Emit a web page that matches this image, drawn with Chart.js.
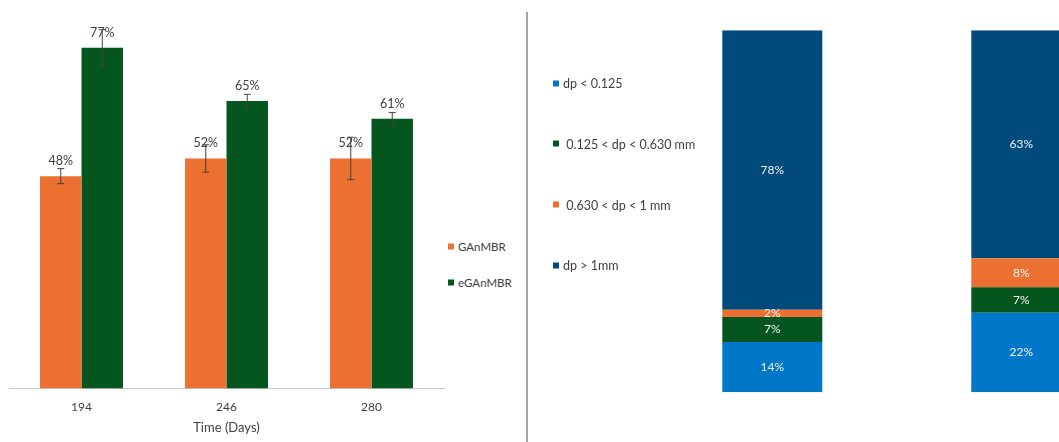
<!DOCTYPE html>
<html>
<head>
<meta charset="utf-8">
<script src="https://cdn.jsdelivr.net/npm/chart.js@4.4.1/dist/chart.umd.min.js"></script>
<style>
  html, body { margin: 0; padding: 0; background: #fff; overflow: hidden; }
  #wrap { position: relative; width: 1059px; height: 442px; overflow: hidden; font-family: Lato, sans-serif; color: #404040; }
  #removalBox { position: absolute; left: 0; top: 0; width: 446px; height: 442px; }
  #sizeBox { position: absolute; left: 530px; top: 0; width: 620px; height: 442px; }
  .divider { position: absolute; left: 526px; top: 12px; width: 1.5px; height: 430px; background: #a6a6a6; }
  .legend { position: absolute; margin: 0; padding: 0; list-style: none; }
  .legend li { position: absolute; left: 0; display: flex; align-items: center; white-space: pre; transform: translateY(-50%); }
  .legend .swatch { width: 6px; height: 6px; margin-right: 4px; flex: none; }
  #removalLegend { left: 448px; top: 246px; font-size: 11.5px; }
  #sizeLegend { left: 553px; top: 83px; font-size: 12.5px; }
</style>
</head>
<body>
<div id="wrap">
  <div id="removalBox"><canvas id="removalChart"></canvas></div>
  <ul class="legend" id="removalLegend"></ul>
  <div class="divider"></div>
  <div id="sizeBox"><canvas id="sizeChart"></canvas></div>
  <ul class="legend" id="sizeLegend"></ul>
</div>
<script>
// removal efficiency (%) per sampling day
const days = ['194', '246', '280'];
const ganmbr = [48, 52, 52];
const eganmbr = [77, 65, 61];
const ganmbrErr = [1.7, 3.1, 4.8];
const eganmbrErr = [4.1, 1.5, 1.4];

// particle size distribution (%) per reactor
const reactors = ['GAnMBR', 'eGAnMBR'];
const fineShare = [14, 22];
const midShare = [7, 7];
const coarseShare = [2, 8];
const largeShare = [78, 63];
const sizeLabels = ['dp < 0.125', ' 0.125 < dp < 0.630 mm', ' 0.630 < dp < 1 mm', 'dp > 1mm'];

const ORANGE = '#ec7032';
const GREEN = '#04561e';
const LIGHT_BLUE = '#0077c8';
const DARK_BLUE = '#014a7c';
const TEXT = '#404040';

// error bars + value labels above each bar
const barTopLabels = {
  id: 'barTopLabels',
  afterDatasetsDraw(chart) {
    const ctx = chart.ctx;
    const y = chart.scales.y;
    ctx.save();
    chart.data.datasets.forEach((ds, i) => {
      const meta = chart.getDatasetMeta(i);
      meta.data.forEach((bar, j) => {
        const v = ds.data[j];
        const e = ds.errors[j];
        const top = y.getPixelForValue(v + e);
        const bot = y.getPixelForValue(v - e);
        ctx.strokeStyle = TEXT;
        ctx.lineWidth = 1;
        ctx.beginPath();
        ctx.moveTo(bar.x, top); ctx.lineTo(bar.x, bot);
        ctx.moveTo(bar.x - 3.5, top); ctx.lineTo(bar.x + 3.5, top);
        ctx.moveTo(bar.x - 3.5, bot); ctx.lineTo(bar.x + 3.5, bot);
        ctx.stroke();
      });
    });
    ctx.fillStyle = TEXT;
    ctx.font = '12.5px Lato, sans-serif';
    ctx.textAlign = 'center';
    ctx.textBaseline = 'middle';
    chart.data.datasets.forEach((ds, i) => {
      chart.getDatasetMeta(i).data.forEach((bar, j) => {
        ctx.fillText(ds.data[j] + '%', bar.x, bar.y - 15);
      });
    });
    ctx.restore();
  }
};

// labels centred inside each stacked segment
const segmentLabels = {
  id: 'segmentLabels',
  afterDatasetsDraw(chart) {
    const ctx = chart.ctx;
    ctx.save();
    ctx.fillStyle = '#f2f2f2';
    ctx.font = '12px Lato, sans-serif';
    ctx.textAlign = 'center';
    ctx.textBaseline = 'middle';
    chart.data.datasets.forEach((ds, i) => {
      chart.getDatasetMeta(i).data.forEach((bar, j) => {
        ctx.fillText(ds.raw[j] + '%', bar.x, (bar.y + bar.base) / 2);
      });
    });
    ctx.restore();
  }
};

function buildLegend(chart, listId, gap) {
  const list = document.getElementById(listId);
  chart.data.datasets.forEach((ds, i) => {
    const li = document.createElement('li');
    li.style.top = (i * gap) + 'px';
    const sw = document.createElement('span');
    sw.className = 'swatch';
    sw.style.background = ds.backgroundColor;
    li.appendChild(sw);
    li.appendChild(document.createTextNode(ds.label));
    list.appendChild(li);
  });
}

Chart.defaults.font.family = 'Lato, sans-serif';
Chart.defaults.color = TEXT;

const removalChart = new Chart(document.getElementById('removalChart'), {
  type: 'bar',
  data: {
    labels: days,
    datasets: [
      { label: 'GAnMBR', data: ganmbr, errors: ganmbrErr, backgroundColor: ORANGE },
      { label: 'eGAnMBR', data: eganmbr, errors: eganmbrErr, backgroundColor: GREEN }
    ]
  },
  options: {
    responsive: true,
    maintainAspectRatio: false,
    animation: false,
    layout: { padding: { left: 9, right: 2, top: 34.6, bottom: 0.5 } },
    categoryPercentage: 0.572,
    barPercentage: 1,
    plugins: { legend: { display: false }, tooltip: { enabled: false } },
    scales: {
      x: {
        grid: { display: false, drawTicks: false },
        border: { display: true, color: '#c8c8c8', width: 1 },
        ticks: { padding: 11, font: { size: 12 }, color: TEXT },
        title: { display: true, text: 'Time (Days)', font: { size: 13 }, color: TEXT, padding: { top: -5, bottom: 6 } }
      },
      y: { display: false, min: 0, max: 80 }
    }
  },
  plugins: [barTopLabels]
});

const sizeSeries = [fineShare, midShare, coarseShare, largeShare];
const sizeColors = [LIGHT_BLUE, GREEN, ORANGE, DARK_BLUE];
const totals = reactors.map((_, j) => sizeSeries.reduce((s, arr) => s + arr[j], 0));

const sizeChart = new Chart(document.getElementById('sizeChart'), {
  type: 'bar',
  data: {
    labels: reactors,
    datasets: sizeSeries.map((arr, i) => ({
      label: sizeLabels[i],
      raw: arr,
      data: arr.map((v, j) => v / totals[j] * 100),
      backgroundColor: sizeColors[i]
    }))
  },
  options: {
    responsive: true,
    maintainAspectRatio: false,
    animation: false,
    layout: { padding: { left: 117.8, right: 4.2, top: 30.3, bottom: 49.7 } },
    categoryPercentage: 0.4016,
    barPercentage: 1,
    plugins: { legend: { display: false }, tooltip: { enabled: false } },
    scales: {
      x: { display: false, stacked: true },
      y: { display: false, stacked: true, min: 0, max: 100 }
    }
  },
  plugins: [segmentLabels]
});

buildLegend(removalChart, 'removalLegend', 36.3);
buildLegend(sizeChart, 'sizeLegend', 60.8);
</script>
</body>
</html>
